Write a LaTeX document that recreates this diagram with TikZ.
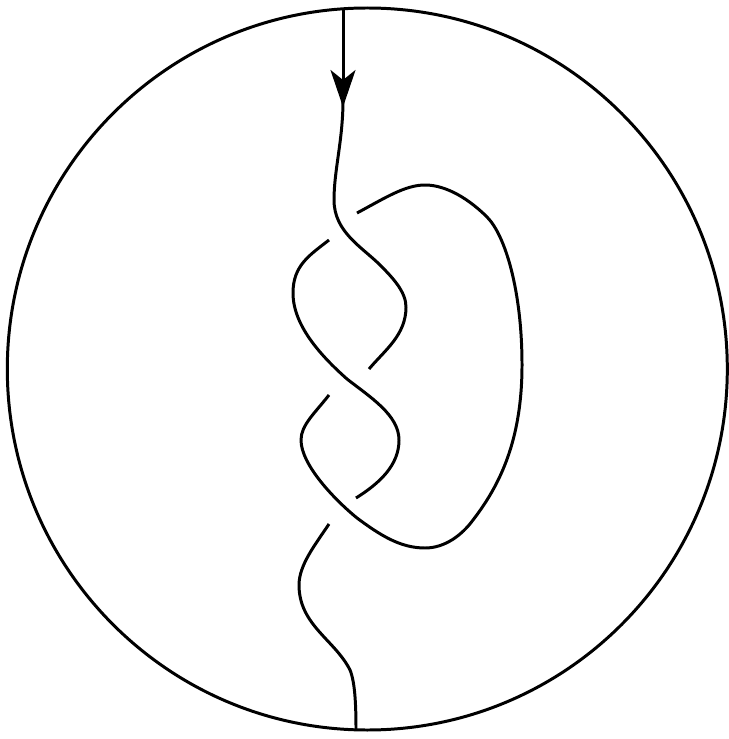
\documentclass[tikz,border=0pt]{standalone}
\usetikzlibrary{arrows.meta}

\begin{document}
\begin{tikzpicture}[
    x=0.02cm, y=-0.02cm,
    strand/.style={line width=1.7pt, line join=round},
    arrow/.style={strand, -{Stealth[length=7.4mm, width=5mm, inset=2mm]}}
]
\useasboundingbox (0,0) rectangle (728,739);

\draw[strand] (367.3,369) ellipse [x radius=360, y radius=361];

% incoming end
\draw[arrow] (343,8) -- (343,107);

% over strands
\draw[strand] (343,100) .. controls (343,140) and (334,170) .. (334,200)
  .. controls (334,232) and (362,247) .. (380,265)
  .. controls (393,278) and (406,292) .. (406,307)
  .. controls (406,335) and (385,350) .. (369,369);
\draw[strand] (329,240) .. controls (310,255) and (293,265) .. (293,293)
  .. controls (293,325) and (320,355) .. (347,379)
  .. controls (370,397) and (399,415) .. (399,440)
  .. controls (399,465) and (380,483) .. (356,498);
\draw[strand] (329,395) .. controls (315,413) and (301,425) .. (301,440)
  .. controls (301,465) and (335,500) .. (357,518)
  .. controls (380,535) and (400,548) .. (425,548)
  .. controls (445,548) and (462,535) .. (473,520)
  .. controls (500,485) and (522,440) .. (522,365)
  .. controls (522,290) and (505,235) .. (487,217)
  .. controls (470,200) and (447,185) .. (425,185)
  .. controls (405,185) and (385,198) .. (357,213);

% outgoing end
\draw[strand] (329,524) .. controls (315,545) and (299,565) .. (299,585)
  .. controls (299,625) and (335,640) .. (350,670)
  .. controls (355,682) and (356,705) .. (356,730);
\end{tikzpicture}
\end{document}
